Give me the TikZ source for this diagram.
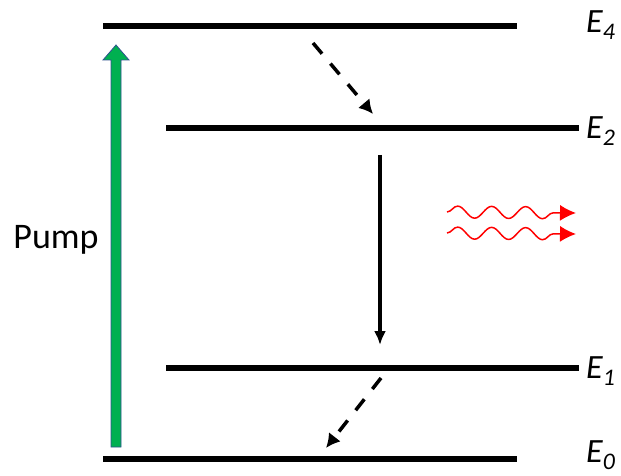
\documentclass[tikz,border=0pt]{standalone}
\usepackage{fontspec}
\setmainfont{Carlito}
\usetikzlibrary{arrows.meta,decorations.pathmorphing}

\definecolor{pumpgreen}{RGB}{0,176,80}
\definecolor{pumpedge}{RGB}{47,82,143}

\tikzset{
  level/.style={line width=5.5pt},
  lvlabel/.style={anchor=west,inner sep=0pt,font=\fontsize{34}{38}\selectfont\itshape},
  decay/.style={-{Latex[length=14pt,width=15pt]},line width=3.5pt,dash pattern=on 14pt off 13pt},
  relax/.style={-{Latex[length=14pt,width=12pt]},line width=3.2pt},
  photon/.style={red,line width=1.5pt,-{Latex[length=16pt,width=16pt]},
    decorate,decoration={snake,amplitude=6pt,segment length=34pt,post length=20pt}}
}

\begin{document}
\begin{tikzpicture}[x=1pt,y=-1pt,>=Latex]
  \useasboundingbox (0,0) rectangle (621,476);
  % energy levels
  \draw[level] (103,26) coordinate (e4l) -- (517,26) coordinate (e4r);
  \draw[level] (166,128) coordinate (e2l) -- (579,128) coordinate (e2r);
  \draw[level] (166,368) coordinate (e1l) -- (579,368) coordinate (e1r);
  \draw[level] (103,459) coordinate (e0l) -- (517,459) coordinate (e0r);
  \node[lvlabel] (le4) at (586,25) {E\textsubscript{4}};
  \node[lvlabel] (le2) at (586,131) {E\textsubscript{2}};
  \node[lvlabel] (le1) at (586,371) {E\textsubscript{1}};
  \node[lvlabel] (le0) at (586,455) {E\textsubscript{0}};
  % pump
  \draw[pumpedge,fill=pumpgreen,line width=0.8pt]
    (111,447) -- (111,60) -- (103,60) -- (116,45) -- (129,60) -- (121,60) -- (121,447) -- cycle;
  \node[font=\fontsize{36}{40}\selectfont] (plabel) at (56,240) {Pump};
  % transitions
  \coordinate (d1a) at (313,43);
  \coordinate (d1b) at (373,114);
  \draw[decay] (d1a) -- (d1b);
  \coordinate (ra) at (380,155);
  \coordinate (rb) at (380,345);
  \draw[relax] (ra) -- (rb);
  \coordinate (d2a) at (381,378);
  \coordinate (d2b) at (326,448);
  \draw[decay] (d2a) -- (d2b);
  % emitted light
  \coordinate (w1a) at (447,212);
  \coordinate (w1b) at (576,213);
  \coordinate (w2a) at (447,233);
  \coordinate (w2b) at (576,234);
  \draw[photon] (w1a) -- (w1b);
  \draw[photon] (w2a) -- (w2b);
\end{tikzpicture}
\end{document}
